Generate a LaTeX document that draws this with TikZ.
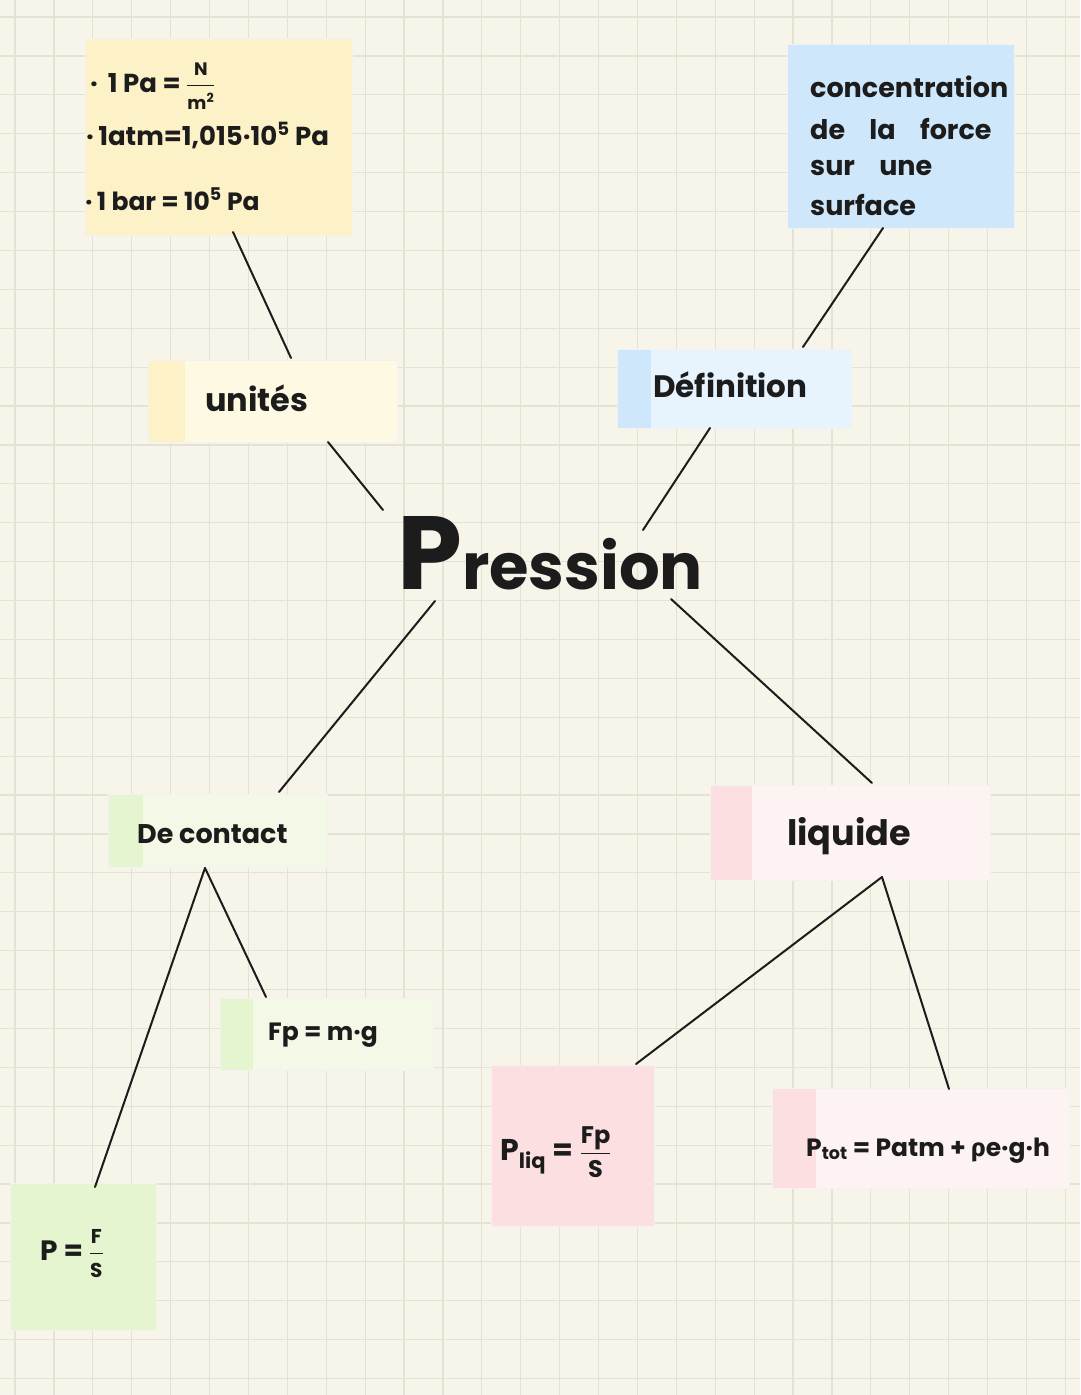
\documentclass[tikz,border=0pt]{standalone}
\usepackage{fontspec}
\usepackage{amsmath}
\setmainfont{Poppins}
\newfontfamily\grk{Fira Sans}
\usetikzlibrary{calc}
\definecolor{bg}{HTML}{F7F4EA}
\definecolor{gridc}{HTML}{E4E1D5}
\definecolor{ink}{HTML}{1C1C1C}
\definecolor{yelA}{HTML}{FDF1C8}
\definecolor{yelB}{HTML}{FDF9E2}
\definecolor{bluA}{HTML}{CFE7FA}
\definecolor{bluB}{HTML}{E8F4FD}
\definecolor{grnA}{HTML}{E4F5CF}
\definecolor{grnB}{HTML}{F4F8E6}
\definecolor{pnkA}{HTML}{FCDFE0}
\definecolor{pnkB}{HTML}{FDF3F2}
\newcommand\myfs[1]{\fontsize{#1}{#1}\selectfont}
\newcommand\myfrac[3]{$\dfrac{\text{\myfs{#3}\bfseries #1}}{\text{\myfs{#3}\bfseries #2}}$}
\begin{document}
\begin{tikzpicture}[x=1pt,y=-1pt,
  link/.style={line width=2pt, draw=ink, line cap=round},
  note/.style={rectangle, inner sep=0pt, draw=black!5, line width=0.8pt},
  striped/.style n args={3}{note, fill=#1, path picture={\fill[#2] (path picture bounding box.north west) rectangle ([xshift=#3pt]path picture bounding box.south west);}},
  txt/.style={inner sep=0pt, text=ink, anchor=base west, font=\bfseries}]
\useasboundingbox (0,0) rectangle (1080,1395);
\fill[bg] (0,0) rectangle (1080,1395);
\foreach \i in {0,...,27} \draw[gridc, line width=1.2pt] ({15+38.9*\i},0) -- ({15+38.9*\i},1395);
\foreach \i in {0,...,35} \draw[gridc, line width=1.2pt] (0,{17+38.9*\i}) -- (1080,{17+38.9*\i});

% boxes
\node[note, fill=yelA, minimum width=267pt, minimum height=197pt] (units) at (218.5,136.5) {};
\node[note, fill=bluA, minimum width=227pt, minimum height=184pt] (defbox) at (900.5,136) {};
\node[striped={yelB}{yelA}{37}, minimum width=249pt, minimum height=82pt] (unites) at (272.5,401) {};
\node[striped={bluB}{bluA}{34}, minimum width=234pt, minimum height=79pt] (definition) at (734,388.5) {};
\node[striped={grnB}{grnA}{35}, minimum width=219pt, minimum height=73pt] (contact) at (217.5,830.5) {};
\node[striped={pnkB}{pnkA}{42}, minimum width=280pt, minimum height=95pt] (liquide) at (850,832.5) {};
\node[striped={grnB}{grnA}{33}, minimum width=213pt, minimum height=72pt] (fp) at (326.5,1034) {};
\node[note, fill=grnA, minimum width=146pt, minimum height=147pt] (pfs) at (83,1256.5) {};
\node[note, fill=pnkA, minimum width=163pt, minimum height=161pt] (pliq) at (572.5,1145.5) {};
\node[striped={pnkB}{pnkA}{44}, minimum width=297pt, minimum height=100pt] (ptot) at (920.5,1138) {};

% central title
\node[txt] (pression) at (397,589) {\myfs{104}P\myfs{64}ression};
\coordinate (pc) at (549,545);

% texts
\node[txt] (u1) at (90,92) {\myfs{26}·\hspace{10pt}1 Pa = \myfrac{N}{m\textsuperscript{2}}{18}};
\node[txt] (u2) at (86,145) {\myfs{26}·\,1atm=1,015·10\textsuperscript{5} Pa};
\node[txt] (u3) at (85,210) {\myfs{25}·\,1 bar = 10\textsuperscript{5} Pa};
\node[txt] (d1) at (810,97) {\myfs{27}concentration};
\node[txt] (d2) at (810,139) {\myfs{27}de\hspace{0.9em}la\hspace{0.9em}force};
\node[txt] (d3) at (810,175) {\myfs{27}sur\hspace{0.9em}une};
\node[txt] (d4) at (810,215) {\myfs{27}surface};
\node[txt] (tunites) at (205,411) {\myfs{32}unités};
\node[txt] (tdef) at (653,397) {\myfs{31}Définition};
\node[txt] (tcontact) at (137,843) {\myfs{27}De contact};
\node[txt] (tliq) at (787,845) {\myfs{35}liquide};
\node[txt] (tfp) at (268,1040) {\myfs{25}Fp = m·g};
\node[txt] (tpfs) at (40,1260) {\myfs{28}P = \myfrac{F}{S}{20}};
\node[txt] (tpliq) at (500,1160) {\myfs{30}P\textsubscript{liq} = \myfrac{Fp}{S}{24}};
\node[txt] (tptot) at (806,1156) {\myfs{25}P\textsubscript{tot} = Patm + {\grk\bfseries ρ}e·g·h};

% connectors
\draw[link] ($(units)+(14.5,95.5)$) -- ($(unites)+(18.5,-43)$);
\draw[link] ($(unites)+(55.5,41)$) -- ($(pc)+(-166,-35)$);
\draw[link] ($(defbox)+(-17.5,92)$) -- ($(definition)+(69,-41.5)$);
\draw[link] ($(definition)+(-24,39.5)$) -- ($(pc)+(94,-15)$);
\draw[link] ($(pc)+(-114,56)$) -- ($(contact)+(61.5,-38.5)$);
\draw[link] ($(pc)+(122,54)$) -- ($(liquide)+(22,-49.5)$);
\draw[link] ($(contact)+(-12.5,37.5)$) -- ($(pfs)+(12,-69.5)$);
\draw[link] ($(contact)+(-12.5,37.5)$) -- ($(fp)+(-60.5,-37)$);
\draw[link] ($(liquide)+(32,44.5)$) -- ($(pliq)+(63.5,-81.5)$);
\draw[link] ($(liquide)+(32,44.5)$) -- ($(ptot)+(28.5,-49)$);
\end{tikzpicture}
\end{document}
